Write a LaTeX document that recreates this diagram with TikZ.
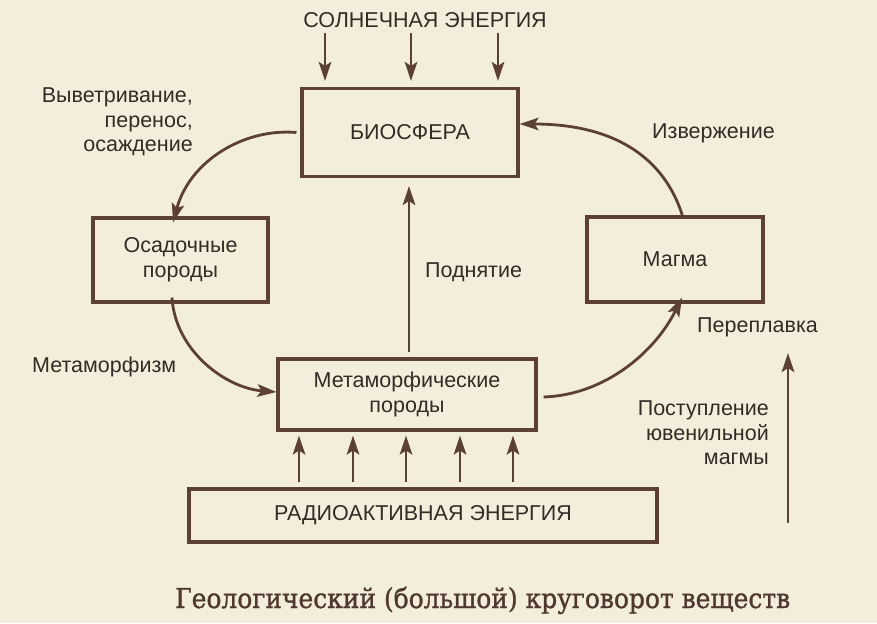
\documentclass[tikz,border=0pt]{standalone}
\usepackage{fontspec}
\setmainfont{Liberation Sans}
\newfontfamily\capfont[FakeBold=1.2]{DejaVu Serif}
\usetikzlibrary{arrows.meta}
\definecolor{paper}{RGB}{243,238,219}
\definecolor{ink}{RGB}{92,64,56}
\definecolor{txt}{RGB}{52,42,38}
\definecolor{captxt}{RGB}{80,56,48}
\tikzset{
  box/.style={draw=ink, line width=3.1pt, rectangle, inner sep=0pt, text=txt, align=center, font=\fontsize{21.5}{25}\selectfont},
  lbl/.style={text=txt, inner sep=0pt, font=\fontsize{21.5}{24.5}\selectfont},
  arr/.style={draw=ink, line width=2.8pt, -{Stealth[length=19pt,width=12.5pt,inset=4pt]}},
}
\begin{document}
\begin{tikzpicture}[x=1pt,y=-1pt]
\fill[paper] (0,0) rectangle (877,623);
\useasboundingbox (0,0) rectangle (877,623);

% boxes
\node[box, minimum width=216pt, minimum height=88pt] (bio) at (410,132.5) {БИОСФЕРА};
\node[box, minimum width=175pt, minimum height=84pt] (osad) at (180.5,260) {Осадочные\\породы};
\node[box, minimum width=176pt, minimum height=85pt] (magma) at (675,259.5) {Магма};
\node[box, minimum width=258pt, minimum height=71pt] (meta) at (407,394.5) {Метаморфические\\породы};
\node[box, minimum width=468pt, minimum height=53pt] (radio) at (423,515.5) {РАДИОАКТИВНАЯ ЭНЕРГИЯ};

% labels
\node[lbl] (sun) at (425,20) {СОЛНЕЧНАЯ ЭНЕРГИЯ};
\node[lbl, anchor=east, align=right] (weath) at (193,122) {Выветривание,\\перенос,\\осаждение};
\node[lbl, anchor=west] (erupt) at (652,133) {Извержение};
\node[lbl, anchor=west] (uplift) at (425,272) {Поднятие};
\node[lbl, anchor=west] (metam) at (32,367) {Метаморфизм};
\node[lbl, anchor=west] (remelt) at (697,327) {Переплавка};
\node[lbl, anchor=east, align=right] (juv) at (769,433) {Поступление\\ювенильной\\магмы};
\node[text=captxt, inner sep=0pt, anchor=base west, font=\capfont\fontsize{27.4}{30}\selectfont] (cap) at (175,608) {\resizebox{615pt}{\height}{Геологический (большой) круговорот веществ}};

% solar arrows
\coordinate (s1) at (325,33);
\coordinate (s2) at (411,33);
\coordinate (s3) at (498,33);
\foreach \s in {s1,s2,s3}
  \draw[arr, shorten >=6pt] (\s) -- (\s |- bio.north);

% radioactive arrows
\foreach \x in {299,353,406,460,513}
  \draw[arr, shorten <=5pt, shorten >=4pt] (\x,0 |- radio.north) -- (\x,0 |- meta.south);

% uplift
\draw[arr, shorten <=5pt, shorten >=8pt] (409,0 |- meta.north) -- (409,0 |- bio.south);

% juvenile magma
\coordinate (j0) at (788,523);
\coordinate (j1) at (788,353);
\draw[arr] (j0) -- (j1);

% cycle curves
\draw[arr] ([xshift=-4pt]bio.west) .. controls (245,128) and (190,160) .. ([yshift=-6pt]osad.north -| 173,0);
\draw[arr] ([yshift=6pt]osad.south -| 172,0) .. controls (175,350) and (225,388) .. (meta.west |- 0,392);
\draw[arr] ([xshift=6pt]meta.east |- 0,397) .. controls (605,395) and (655,352) .. ([yshift=6pt]magma.south -| 682,0);
\draw[arr] ([yshift=-2pt]magma.north -| 683,0) .. controls (665,158) and (615,124) .. (bio.east |- 0,124);
\end{tikzpicture}
\end{document}
